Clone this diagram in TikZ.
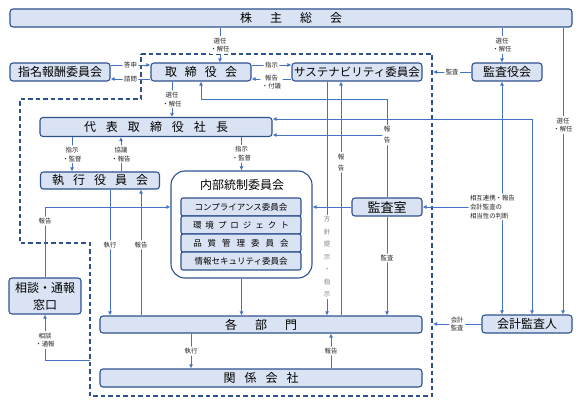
\documentclass[tikz,border=0pt]{standalone}
\usepackage{fontspec}
\setmainfont{Noto Sans CJK JP}
\usetikzlibrary{arrows.meta}
\definecolor{orgFill}{RGB}{218, 227, 243}
\definecolor{orgBorder}{RGB}{47, 82, 143}
\definecolor{orgLine}{RGB}{68, 114, 196}

\begin{document}
\begin{tikzpicture}[
  x=1pt, y=-1pt,
  box/.style={
    draw=orgBorder,
    fill=orgFill,
    rounded corners=3pt,
    line width=1.1pt,
    inner sep=0pt,
    font=\fontsize{12}{14}\selectfont
  },
  subbox/.style={box,minimum width=120pt,minimum height=18pt,rounded corners=2pt,font=\fontsize{8.5}{10}\selectfont},
  lbl/.style={fill=white,rounded corners=2pt,inner sep=1.5pt,align=center,text=black!85,font=\fontsize{6.4}{8.8}\selectfont},
  vlbl/.style={lbl,font=\fontsize{6.5}{11}\selectfont},
  arrow/.style={-{Latex[length=4pt,width=4pt]},orgLine,line width=0.9pt},
  twoway/.style={{Latex[length=4pt,width=4pt]}-{Latex[length=4pt,width=4pt]},orgLine,line width=0.9pt},
  region/.style={orgBorder,line width=1.1pt,dash pattern=on 4.5pt off 3pt}
]
  \useasboundingbox[fill=white] (0,0) rectangle (583,406);
  \draw[region] (141,54) -- (432,54) -- (432,396) -- (90,396) -- (90,243) -- (20,243) -- (20,99) -- (141,99) -- cycle;

  \node[box,minimum width=562pt,minimum height=18pt] (shareholders) at (291,18) {株\hspace{18pt}主\hspace{18pt}総\hspace{18pt}会};
  \node[box,minimum width=100pt,minimum height=18pt] (nomination) at (60,72) {指名報酬委員会};
  \node[box,minimum width=100pt,minimum height=18pt] (board) at (201,72) {取\hspace{8pt}締\hspace{8pt}役\hspace{8pt}会};
  \node[box,minimum width=130pt,minimum height=18pt,font=\fontsize{11.5}{14}\selectfont] (sustain) at (357,72) {サステナビリティ委員会};
  \node[box,minimum width=70pt,minimum height=18pt] (auditors) at (507,72) {監査役会};
  \node[box,minimum width=232pt,minimum height=19pt] (president) at (156,127) {代\hspace{10pt}表\hspace{10pt}取\hspace{10pt}締\hspace{10pt}役\hspace{10pt}社\hspace{10pt}長};
  \node[box,minimum width=119pt,minimum height=17pt] (officers) at (100,180.5) {執\hspace{9pt}行\hspace{9pt}役\hspace{9pt}員\hspace{9pt}会};
  \node[box,minimum width=141pt,minimum height=107pt,rounded corners=14pt,fill=white] (internal) at (241.5,224.5) {};
  \node[font=\fontsize{12}{14}\selectfont] (internalTitle) at (242,185) {内部統制委員会};
  \node[subbox] (compliance) at (241,207) {コンプライアンス委員会};
  \node[subbox] (environment) at (241,225) {環\hspace{4pt}境\hspace{4pt}プ\hspace{4pt}ロ\hspace{4pt}ジ\hspace{4pt}ェ\hspace{4pt}ク\hspace{4pt}ト};
  \node[subbox] (quality) at (241,243) {品\hspace{6pt}質\hspace{6pt}管\hspace{6pt}理\hspace{6pt}委\hspace{6pt}員\hspace{6pt}会};
  \node[subbox] (security) at (241,261) {情報セキュリティ委員会};
  \node[box,minimum width=70pt,minimum height=18pt,font=\fontsize{13}{15}\selectfont] (auditroom) at (387,207) {監査室};
  \node[box,minimum width=72pt,minimum height=36pt,align=center,font=\fontsize{12}{17}\selectfont] (hotline) at (45,296) {相談・通報\\窓口};
  \node[box,minimum width=322pt,minimum height=17pt] (depts) at (261,324.5) {各\hspace{18pt}部\hspace{18pt}門};
  \node[box,minimum width=322pt,minimum height=18pt] (affiliates) at (261,378) {関\hspace{9pt}係\hspace{9pt}会\hspace{9pt}社};
  \node[box,minimum width=90pt,minimum height=18pt] (accountant) at (527,324) {会計監査人};

  \coordinate (auditEdge) at (433,72);
  \coordinate (acctEdge) at (433,324);
  \coordinate (hotlineEdge) at (90,360);

  \draw[arrow] ([xshift=19pt]board.north |- shareholders.south) -- ([xshift=19pt]board.north) node[lbl,midway]{選任\\・解任};
  \draw[arrow] ([xshift=-5pt]auditors.north |- shareholders.south) -- ([xshift=-5pt]auditors.north) node[lbl,midway]{選任\\・解任};
  \draw[arrow] ([xshift=36pt]accountant.north |- shareholders.south) -- ([xshift=36pt]accountant.north) node[lbl,pos=0.34]{選任\\・解任};

  \draw[arrow] ([yshift=7pt]nomination.east) -- ([yshift=7pt]board.west) node[lbl,midway]{答申};
  \draw[arrow] ([yshift=-7pt]board.west) -- ([yshift=-7pt]nomination.east) node[lbl,midway]{諮問};
  \draw[arrow] ([yshift=7pt]board.east) -- ([yshift=7pt]sustain.west) node[lbl,midway]{指示};
  \draw[arrow] ([yshift=-7pt]sustain.west) -- ([yshift=-7pt]board.east) node[lbl,midway,yshift=-3pt]{報告\\・付議};
  \draw[arrow] (auditors.west) -- (auditEdge) node[lbl,midway]{監査};
  \draw[arrow] ([xshift=-29pt]board.south) -- ([xshift=-29pt]board.south |- president.north) node[lbl,midway]{選任\\・解任};

  \draw[arrow] (auditroom.north) -- ++(0,-98) -| (board.south);
  \draw[arrow] ([yshift=-8pt]president.east -| auditroom.north) -- ([yshift=-8pt]president.east) node[vlbl,pos=0]{報\\告};
  \draw[arrow] (auditroom.west) -- (auditroom.west -| internal.east);
  \draw[arrow] (auditroom.south) -- (auditroom.south |- depts.north) node[lbl,pos=0.42]{監査};

  \draw[twoway] ([xshift=-5pt]auditors.south) -- ([xshift=-5pt]auditors.south |- accountant.north);
  \draw[arrow] ([xshift=-5pt]auditors.south |- auditroom.east) -- (auditroom.east) node[lbl,pos=0.12,align=left]{相互連携・報告\\会計監査の\\相当性の判断};
  \draw[twoway] ([xshift=5pt]accountant.north) |- ([yshift=8pt]president.east);
  \draw[arrow] (accountant.west) -- (acctEdge) node[lbl,midway]{会計\\監査};

  \draw[arrow] ([xshift=-30pt]sustain.south) -- ([xshift=-30pt]sustain.south |- depts.north) node[vlbl,pos=0.75,text=black!50,font=\fontsize{6.5}{12.5}\selectfont]{方\\針\\提\\示\\・\\指\\示};
  \draw[arrow] ([xshift=-16pt]sustain.south |- depts.north) -- ([xshift=-16pt]sustain.south) node[vlbl,pos=0.655]{報\\告};

  \draw[arrow] ([xshift=-28pt]officers.north |- president.south) -- ([xshift=-28pt]officers.north) node[lbl,midway]{指示\\・監督};
  \draw[arrow] ([xshift=21pt]officers.north) -- ([xshift=21pt]officers.north |- president.south) node[lbl,midway]{協議\\・報告};
  \draw[arrow] (internal.north |- president.south) -- (internal.north) node[lbl,midway]{指示\\・監督};

  \draw[arrow] ([xshift=10pt]officers.south) -- ([xshift=10pt]officers.south |- depts.north) node[lbl,pos=0.44]{執行};
  \draw[arrow] ([xshift=41pt]officers.south |- depts.north) -- ([xshift=41pt]officers.south) node[lbl,pos=0.56]{報告};

  \draw[arrow] (hotline.north) |- (internal.west |- compliance.west) node[lbl,pos=0.4]{報告};
  \draw[arrow] (hotlineEdge) -| (hotline.south) node[lbl,pos=0.72]{相談\\・通報};

  \draw[arrow] (internal.south) -- (internal.south |- depts.north);
  \draw[arrow] ([xshift=-70pt]depts.south) -- ([xshift=-70pt]depts.south |- affiliates.north) node[lbl,midway]{執行};
  \draw[arrow] ([xshift=70pt]depts.south |- affiliates.north) -- ([xshift=70pt]depts.south) node[lbl,midway]{報告};
\end{tikzpicture}
\end{document}
